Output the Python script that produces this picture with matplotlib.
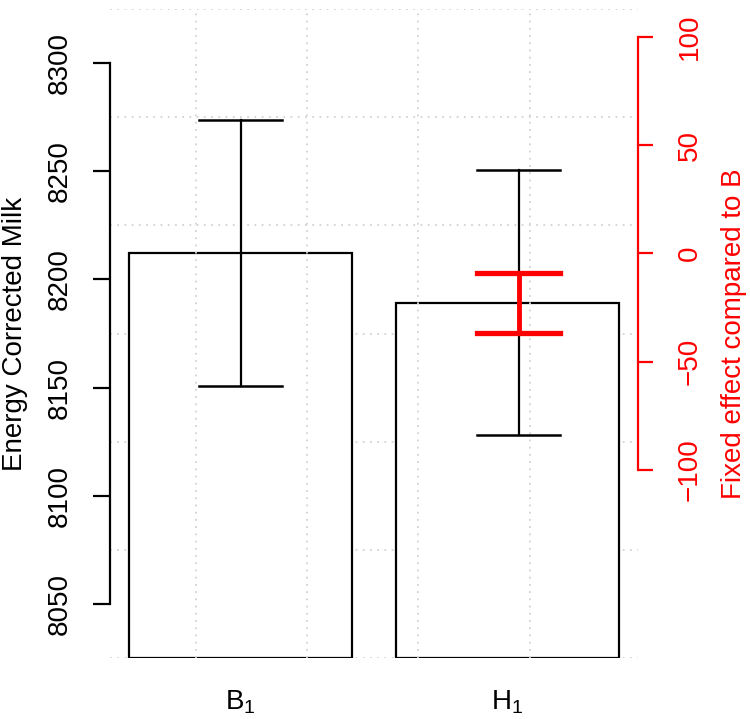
import numpy as np
import matplotlib
matplotlib.use("Agg")
import matplotlib.pyplot as plt

plt.rcParams['font.family'] = ['Liberation Sans', 'DejaVu Sans']
plt.rcParams['mathtext.fontset'] = 'custom'
plt.rcParams['mathtext.rm'] = 'Liberation Sans'
plt.rcParams['mathtext.it'] = 'Liberation Sans:italic'

# data
groups = [r'$\mathrm{B}_1$', r'$\mathrm{H}_1$']
bar_x = [0.7, 1.9]
err_x = [0.7, 1.95]
means = [8212.0, 8189.1]
lower = [8150.7, 8128.1]
upper = [8273.8, 8250.4]

# fixed effect of H compared to B (right axis)
fe_est = -22.9
fe_lower = -37.0
fe_upper = -8.9

ylim = (8025, 8325)
left_ticks = [8050, 8100, 8150, 8200, 8250, 8300]
right_ticks = [-100, -50, 0, 50, 100]
offset = means[0]  # right axis is zero at the B mean

fs = 20

fig = plt.figure(figsize=(7.5, 7.19), dpi=100)
ax = fig.add_axes([110/750, 1-658/719, 528/750, 649/719])
ax.set_xlim(0.113, 2.487)
ax.set_ylim(*ylim)

ax.bar(bar_x, np.array(means) - ylim[0], bottom=ylim[0], width=1.0,
       color='white', edgecolor='black', lw=1.6, zorder=2)

# dotted grid like R's grid(), drawn over the bars
grid_kw = dict(color='#d3d3d3', lw=1.3, ls=(0, (1, 3)), zorder=3)
for gx in [0.5, 1.0, 1.5, 2.0]:
    ax.axvline(gx, **grid_kw)
for gy in np.linspace(ylim[0], ylim[1], 7):
    ax.axhline(gy, **dict(grid_kw, zorder=1))

cap = 0.186
for x, lo, hi in zip(err_x, lower, upper):
    ax.plot([x, x], [lo, hi], color='black', lw=1.6, zorder=4)
    ax.plot([x - cap, x + cap], [lo, lo], color='black', lw=1.8, zorder=4)
    ax.plot([x - cap, x + cap], [hi, hi], color='black', lw=1.8, zorder=4)

for s in ['top', 'right', 'bottom']:
    ax.spines[s].set_visible(False)
ax.spines['left'].set_bounds(left_ticks[0], left_ticks[-1])
ax.spines['left'].set_linewidth(1.6)
ax.set_yticks(left_ticks)
ax.set_yticklabels([str(t) for t in left_ticks], rotation=90, va='center')
ax.tick_params(axis='y', length=12, width=1.6, pad=15, labelsize=fs)
ax.set_xticks(bar_x)
ax.set_xticklabels(groups)
ax.tick_params(axis='x', length=0, pad=22, labelsize=fs)
ax.set_ylabel('Energy Corrected Milk', fontsize=fs)
ax.yaxis.set_label_coords(-0.155, 0.5)

# right axis
ax2 = ax.twinx()
ax2.set_ylim(ylim[0] - offset, ylim[1] - offset)
for s in ['top', 'left', 'bottom']:
    ax2.spines[s].set_visible(False)
ax2.spines['right'].set_bounds(right_ticks[0], right_ticks[-1])
ax2.spines['right'].set_color('red')
ax2.spines['right'].set_linewidth(1.6)
ax2.set_yticks(right_ticks)
ax2.set_yticklabels([str(t).replace('-', '\u2212') for t in right_ticks],
                    rotation=90, va='center', color='red')
ax2.tick_params(axis='y', length=11, width=1.6, pad=17, labelsize=fs, colors='red')
ax2.set_ylabel('Fixed effect compared to B', fontsize=fs, color='red')
ax2.yaxis.set_label_coords(1.157, 0.5)

ax2.plot([err_x[1], err_x[1]], [fe_lower, fe_upper], color='red', lw=3.5, zorder=5)
ax2.plot([err_x[1] - cap, err_x[1] + cap], [fe_lower, fe_lower], color='red', lw=3.8)
ax2.plot([err_x[1] - cap, err_x[1] + cap], [fe_upper, fe_upper], color='red', lw=3.8)

fig.savefig('out.png', dpi=100)
